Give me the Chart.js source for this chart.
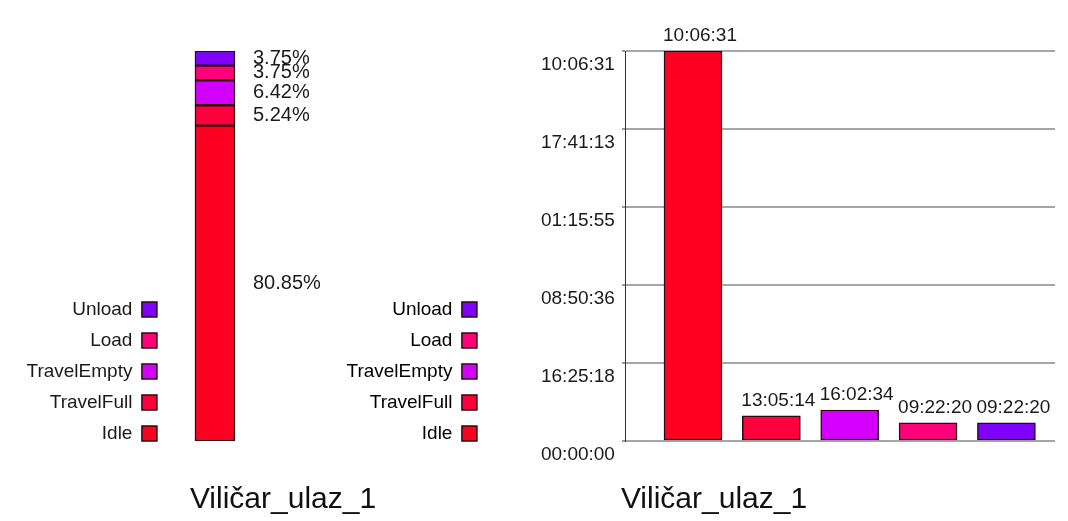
<!DOCTYPE html>
<html>
<head>
<meta charset="utf-8">
<title>Viličar_ulaz_1</title>
<script src="https://cdn.jsdelivr.net/npm/chart.js@4.4.1/dist/chart.umd.min.js"></script>
<style>
  html, body { margin: 0; padding: 0; background: #fff; }
  #wrap { position: relative; width: 1068px; height: 521px; overflow: hidden; }
  #wrap canvas { position: absolute; top: 0; }
  #shareChart { left: 0; }
  #timeChart { left: 330px; }
</style>
</head>
<body>
<div id="wrap">
  <canvas id="shareChart" width="400" height="521"></canvas>
  <canvas id="timeChart" width="738" height="521"></canvas>
</div>
<script>
// resource and its state times (h:mm:ss, total over the run)
const resourceName = 'Viličar_ulaz_1';
const states = ['Idle', 'TravelFull', 'TravelEmpty', 'Load', 'Unload'];
const stateTimes = ['202:06:31', '13:05:14', '16:02:34', '9:22:20', '9:22:20'];
const stateColors = ['#ff0022', '#ff003c', '#d400ff', '#ff0078', '#8000ff'];
const timeTickCount = 5;

function toSeconds(t) {
    const [h, m, s] = t.split(':').map(Number);
    return h * 3600 + m * 60 + s;
}

// clock style hh:mm:ss (wraps at 24h, like the simulator prints it)
function clock(sec) {
    const s = Math.round(sec) % 86400;
    const parts = [Math.floor(s / 3600), Math.floor((s % 3600) / 60), s % 60];
    return parts.map(v => String(v).padStart(2, '0')).join(':');
}

const seconds = stateTimes.map(toSeconds);
const total = seconds.reduce((a, b) => a + b, 0);
const shares = seconds.map(v => v / total * 100);
const maxTime = Math.max(...seconds);

Chart.defaults.font.family = '"Liberation Sans", Arial, sans-serif';
Chart.defaults.font.size = 19;
Chart.defaults.color = '#1a1a1a';
Chart.defaults.animation = false;

const barBorder = '#2a0a10';

const legendLabels = {
    boxWidth: 15,
    boxHeight: 15,
    padding: 12,
    color: '#1a1a1a',
    font: { size: 19 }
};

// name under each chart
const captionPlugin = {
    id: 'caption',
    afterDraw(chart, args, opts) {
        const ctx = chart.ctx;
        ctx.save();
        ctx.font = '30px "Liberation Sans", Arial, sans-serif';
        ctx.fillStyle = '#111';
        ctx.textAlign = 'center';
        ctx.textBaseline = 'alphabetic';
        ctx.fillText(opts.text, opts.x, chart.chartArea.bottom + 67);
        ctx.restore();
    }
};

// percentages next to the stacked column
const shareLabels = {
    id: 'shareLabels',
    afterDatasetsDraw(chart) {
        const ctx = chart.ctx;
        ctx.save();
        ctx.font = '20px "Liberation Sans", Arial, sans-serif';
        ctx.fillStyle = '#1a1a1a';
        ctx.textAlign = 'left';
        ctx.textBaseline = 'middle';
        chart.data.datasets.forEach((ds, i) => {
            const bar = chart.getDatasetMeta(i).data[0];
            ctx.fillText(ds.data[0].toFixed(2) + '%', bar.x + bar.width / 2 + 18, (bar.y + bar.base) / 2);
        });
        ctx.restore();
    }
};

// time value over every bar, starting at the bar's left edge
const timeLabels = {
    id: 'timeLabels',
    afterDatasetsDraw(chart) {
        const ctx = chart.ctx;
        const ds = chart.data.datasets[0];
        ctx.save();
        ctx.font = '19px "Liberation Sans", Arial, sans-serif';
        ctx.fillStyle = '#1a1a1a';
        ctx.textAlign = 'left';
        ctx.textBaseline = 'alphabetic';
        chart.getDatasetMeta(0).data.forEach((bar, i) => {
            ctx.fillText(clock(ds.data[i].y), bar.x - bar.width / 2 - 1, bar.y - 10);
        });
        ctx.restore();
    }
};

// left: share of time, one stacked column
new Chart(document.getElementById('shareChart'), {
    type: 'bar',
    data: {
        labels: [resourceName],
        datasets: states.map((s, i) => ({
            label: s,
            data: [shares[i]],
            backgroundColor: stateColors[i],
            borderColor: barBorder,
            borderWidth: 1.5,
            borderSkipped: false,
            barThickness: 40
        }))
    },
    options: {
        responsive: false,
        layout: { padding: { top: 51, bottom: 66, left: 16.5, right: 139 } },
        scales: {
            x: {
                stacked: true,
                ticks: { display: false },
                grid: { display: false },
                border: { display: false },
                afterFit(scale) { scale.height = 14; }
            },
            y: { stacked: true, display: false, min: 0, max: 100 }
        },
        plugins: {
            legend: { position: 'left', align: 'end', reverse: true, rtl: true, maxWidth: 170, labels: legendLabels },
            tooltip: { enabled: false },
            caption: { text: resourceName, x: 283 }
        }
    },
    plugins: [shareLabels, captionPlugin]
});

// right: absolute time per state
new Chart(document.getElementById('timeChart'), {
    type: 'bar',
    data: {
        datasets: [{
            label: resourceName,
            data: seconds.map((v, i) => ({ x: i, y: v })),
            backgroundColor: stateColors,
            borderColor: barBorder,
            borderWidth: 1.5,
            borderSkipped: false,
            barThickness: 58
        }]
    },
    options: {
        responsive: false,
        layout: { padding: { top: 51, bottom: 66, left: 6.5, right: 13 } },
        scales: {
            x: {
                type: 'linear',
                min: -0.856,
                max: 4.62,
                offset: false,
                ticks: { display: false },
                grid: { display: false },
                border: { display: false },
                afterFit(scale) { scale.height = 14; }
            },
            y: {
                min: 0,
                max: maxTime,
                afterFit(scale) { scale.width = 137; },
                afterBuildTicks(scale) {
                    scale.ticks = Array.from({ length: timeTickCount + 1 }, (_, i) => ({ value: maxTime * i / timeTickCount }));
                },
                ticks: {
                    callback: v => clock(v),
                    labelOffset: 14,
                    padding: 7,
                    color: '#1a1a1a',
                    font: { size: 19 }
                },
                grid: { color: '#a6a6a6', lineWidth: 2, tickLength: 4, tickColor: '#333', tickWidth: 1 },
                border: { display: true, color: '#333', width: 1 }
            }
        },
        plugins: {
            legend: {
                position: 'left', align: 'end', reverse: true, rtl: true, maxWidth: 170,
                labels: Object.assign({}, legendLabels, {
                    generateLabels: () => states.map((s, i) => ({
                        text: s,
                        fillStyle: stateColors[i],
                        strokeStyle: barBorder,
                        lineWidth: 1.5,
                        hidden: false,
                        index: i
                    }))
                })
            },
            tooltip: { enabled: false },
            caption: { text: resourceName, x: 384 }
        }
    },
    plugins: [timeLabels, captionPlugin]
});
</script>
</body>
</html>
